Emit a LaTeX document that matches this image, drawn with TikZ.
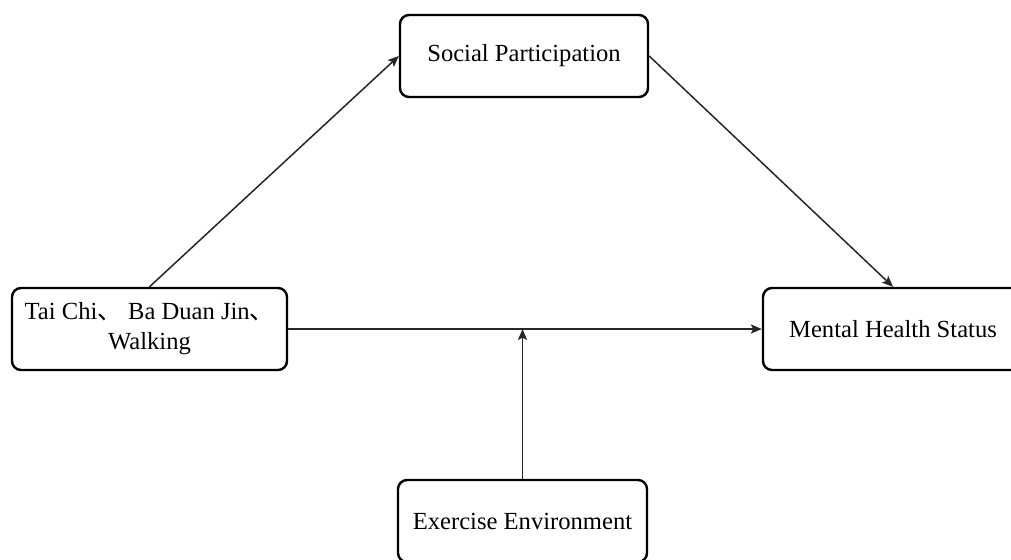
\documentclass[tikz,border=0pt]{standalone}
\usepackage{fontspec}
\setmainfont{Liberation Serif}
\newfontfamily\cjk{Noto Sans CJK SC}
\usetikzlibrary{arrows.meta}

\begin{document}
\begin{tikzpicture}[x=0.5pt, y=-0.5pt,
        factor/.style={draw, line width=1.2pt, rounded corners=4.5pt, align=center,
            font=\fontsize{12.3}{15}\selectfont, minimum height=41pt, inner sep=0pt},
        link/.style={line width=0.75pt, draw=black!85, -{Stealth[length=5.5pt, width=4.6pt, inset=1.2pt]}}]
        \useasboundingbox (0,0) rectangle (1011,559);
        \clip (0,0) rectangle (1011,559);
        \node [factor, minimum width=137.5pt] (sport) at (149.5,329) {Tai Chi{\cjk 、} Ba Duan Jin{\cjk 、}\\Walking};
        \node [factor, minimum width=124pt] (social) at (524,56) {Social Participation};
        \node [factor, minimum width=130pt] (mental) at (893,329) {Mental Health Status};
        \node [factor, minimum width=124.5pt] (env) at (522.5,521) {Exercise Environment};
        \draw [link] (sport.north) -- (social.west);
        \draw [link] (social.east) -- (mental.north);
        \draw [link] (sport.east) -- (mental.west);
        \draw [link] (env.north) -- (env.north |- sport.east);
    \end{tikzpicture}
\end{document}
